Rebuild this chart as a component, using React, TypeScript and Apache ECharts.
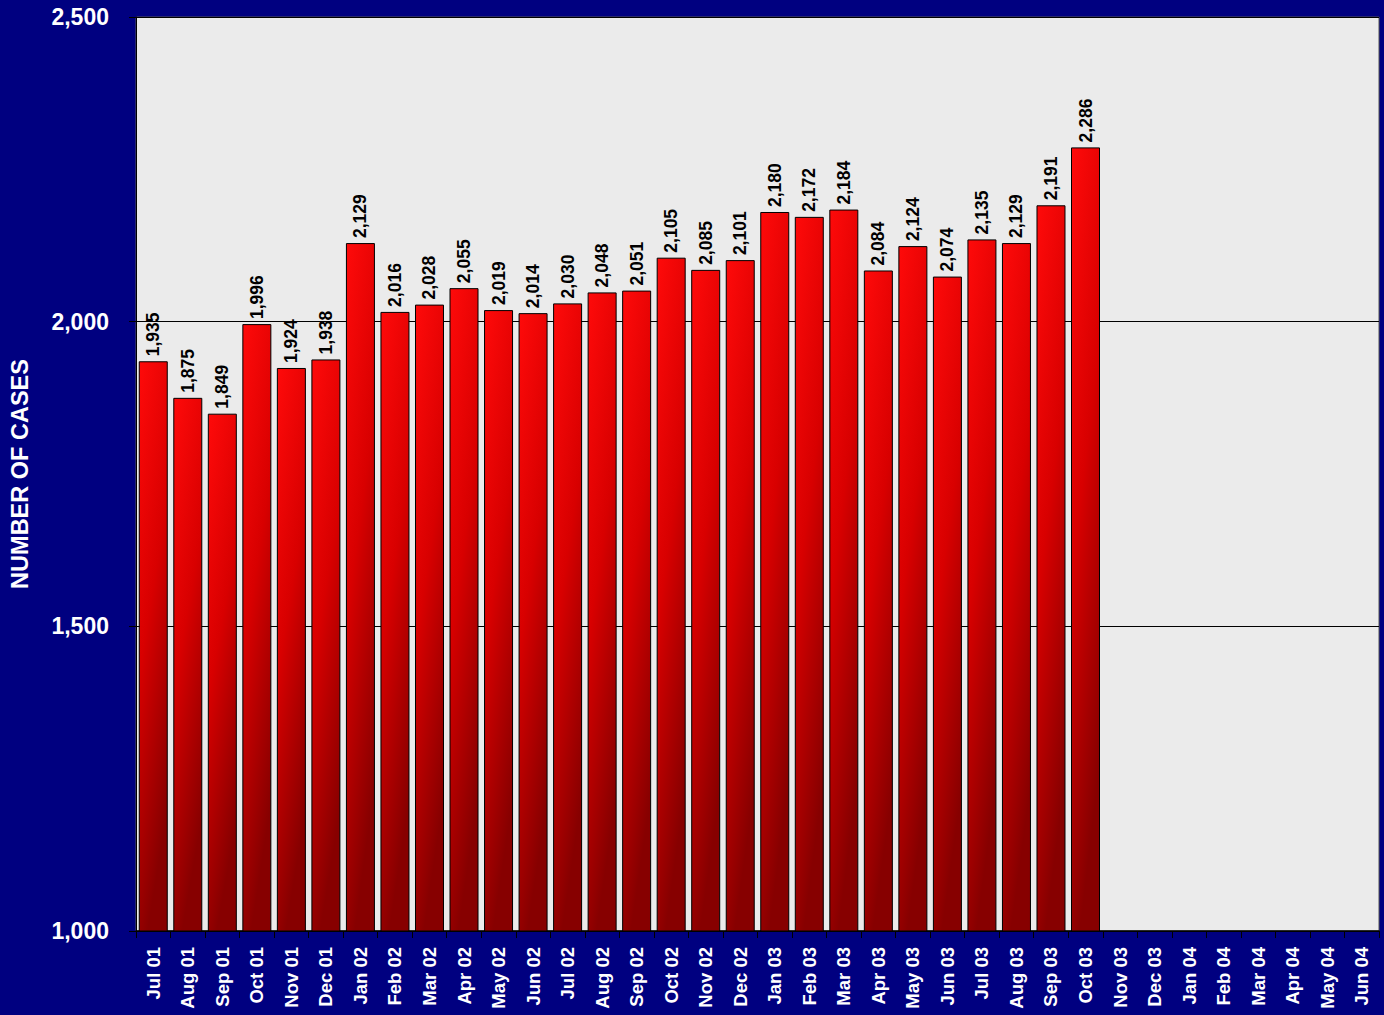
import React, { useEffect, useRef } from "react";
import * as echarts from "echarts";

const categories = [
  "Jul 01", "Aug 01", "Sep 01", "Oct 01", "Nov 01", "Dec 01",
  "Jan 02", "Feb 02", "Mar 02", "Apr 02", "May 02", "Jun 02",
  "Jul 02", "Aug 02", "Sep 02", "Oct 02", "Nov 02", "Dec 02",
  "Jan 03", "Feb 03", "Mar 03", "Apr 03", "May 03", "Jun 03",
  "Jul 03", "Aug 03", "Sep 03", "Oct 03", "Nov 03", "Dec 03",
  "Jan 04", "Feb 04", "Mar 04", "Apr 04", "May 04", "Jun 04",
];

const cases: (number | null)[] = [
  1935, 1875, 1849, 1996, 1924, 1938,
  2129, 2016, 2028, 2055, 2019, 2014,
  2030, 2048, 2051, 2105, 2085, 2101,
  2180, 2172, 2184, 2084, 2124, 2074,
  2135, 2129, 2191, 2286, null, null,
  null, null, null, null, null, null,
];

const yMin = 1000;
const yMax = 2500;
const yInterval = 500;

const fmt = (v: number) => v.toLocaleString("en-US");
const FONT = "Liberation Sans, Arial, sans-serif";

export default function App() {
  const ref = useRef<HTMLDivElement>(null);
  useEffect(() => {
    if (!ref.current) return;
    const chart = echarts.init(ref.current, undefined, { renderer: "svg" });
    chart.setOption({
      animation: false,
      backgroundColor: "#000080",
      textStyle: { fontFamily: FONT },
      grid: {
        left: 135,
        right: 5,
        top: 17,
        bottom: 84,
        show: true,
        backgroundColor: "#ebebeb",
        borderColor: "#555",
        borderWidth: 1,
      },
      xAxis: {
        type: "category",
        data: categories,
        boundaryGap: true,
        axisLine: { lineStyle: { color: "#000", width: 1.5 } },
        axisTick: { show: true, length: 7, inside: false, lineStyle: { color: "#000" } },
        axisLabel: {
          rotate: 90,
          interval: 0,
          color: "#fff",
          fontWeight: "bold",
          fontSize: 18.5,
          margin: 16,
          fontFamily: FONT,
        },
      },
      yAxis: {
        type: "value",
        min: yMin,
        max: yMax,
        interval: yInterval,
        name: "NUMBER OF CASES",
        nameLocation: "middle",
        nameGap: 104,
        nameRotate: 90,
        nameTextStyle: {
          color: "#fff",
          fontWeight: "bold",
          fontSize: 23.5,
          fontFamily: FONT,
        },
        axisLine: { show: true, lineStyle: { color: "#000" } },
        axisTick: { show: true, length: 7, lineStyle: { color: "#000" } },
        splitLine: { show: true, lineStyle: { color: "#000", width: 1 } },
        axisLabel: {
          color: "#fff",
          fontWeight: "bold",
          fontSize: 23,
          margin: 27,
          formatter: (v: number) => fmt(v),
          fontFamily: FONT,
        },
      },
      series: [
        {
          type: "bar",
          data: cases,
          barCategoryGap: "16%",
          itemStyle: {
            color: new echarts.graphic.LinearGradient(0, 0, 0.3, 1, [
              { offset: 0, color: "#ff0a0a" },
              { offset: 0.5, color: "#d80000" },
              { offset: 1, color: "#870000" },
            ]),
            borderColor: "#000",
            borderWidth: 1,
          },
          label: {
            show: true,
            position: "top",
            rotate: 90,
            align: "left",
            verticalAlign: "middle",
            distance: 5,
            color: "#000",
            fontWeight: "bold",
            fontSize: 17.5,
            fontFamily: FONT,
            formatter: (p: any) => (p.value == null ? "" : fmt(p.value)),
          },
        },
      ],
    });
    return () => chart.dispose();
  }, []);
  return (
    <div
      ref={ref}
      style={{ position: "absolute", left: 0, top: 0, width: 1384, height: 1015 }}
    />
  );
}
